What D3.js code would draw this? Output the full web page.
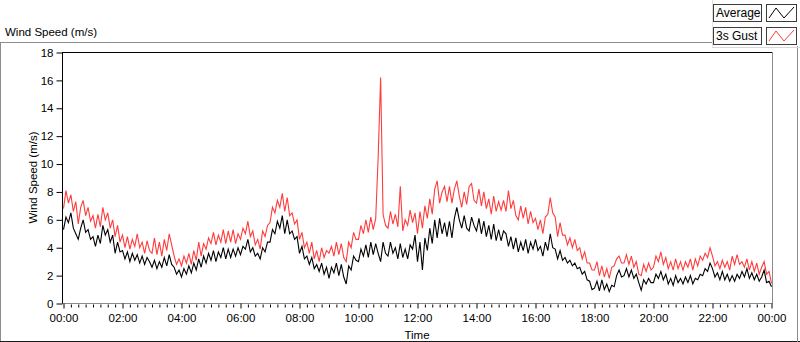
<!DOCTYPE html>
<html>
<head>
<meta charset="utf-8">
<script src="https://cdn.jsdelivr.net/npm/d3@7"></script>
<style>
  html, body { margin: 0; padding: 0; background: #fff; }
  svg { display: block; }
  text { font-family: "Liberation Sans", Arial, sans-serif; fill: #000; }
</style>
</head>
<body>
<svg id="chart" width="800" height="342"></svg>
<script>
// ---- data (5-minute samples, 00:00 .. 24:00) ----
const sampleMinutes = 5;
const avgSpeed = [
  // 00h
  5.3, 6.2, 5.8, 6.5, 5.4, 5.0, 4.6, 5.4, 6.0, 5.1, 5.3, 4.6,
  // 01h
  4.8, 4.1, 4.9, 4.3, 5.6, 4.9, 5.3, 4.4, 4.9, 3.6, 4.4, 3.7,
  // 02h
  3.8, 3.2, 3.7, 3.0, 3.6, 3.1, 3.5, 2.9, 3.4, 2.8, 3.3, 3.0,
  // 03h
  2.6, 3.1, 2.5, 3.0, 2.6, 3.3, 2.7, 3.5, 2.8, 2.6, 2.1, 2.4,
  // 04h
  1.9, 2.5, 2.1, 2.7, 2.2, 2.9, 2.4, 3.2, 2.6, 3.4, 2.9, 3.6,
  // 05h
  3.1, 3.8, 3.0, 3.7, 3.3, 4.0, 3.2, 3.9, 3.3, 3.9, 3.4, 4.0,
  // 06h
  3.5, 4.1, 3.9, 4.6, 3.7, 4.0, 3.4, 3.6, 3.2, 4.0, 3.7, 4.4,
  // 07h
  4.4, 5.3, 5.0, 5.9, 5.4, 6.3, 5.0, 6.0, 5.0, 5.2, 4.6, 4.8,
  // 08h
  3.6, 4.1, 3.2, 3.4, 2.8, 3.3, 2.5, 2.8, 2.3, 2.9, 2.1, 2.6,
  // 09h
  1.8, 2.6, 2.2, 2.9, 2.0, 2.8, 1.9, 1.4, 2.7, 2.4, 3.4, 3.1,
  // 10h
  3.0, 3.9, 3.4, 4.2, 3.3, 4.4, 3.5, 4.3, 3.6, 3.0, 4.4, 3.6,
  // 11h
  3.4, 4.4, 3.6, 4.0, 3.2, 4.3, 3.3, 3.9, 3.2, 4.2, 3.9, 4.9,
  // 12h
  3.0, 4.4, 2.4, 4.7, 3.8, 5.4, 4.3, 6.0, 4.7, 6.1, 5.0, 5.8,
  // 13h
  4.8, 5.9, 4.7, 6.1, 6.9, 6.0, 5.4, 6.3, 5.4, 5.2, 6.2, 5.6,
  // 14h
  5.2, 6.1, 5.0, 5.9, 4.8, 5.6, 4.6, 5.7, 4.5, 5.3, 4.5, 5.2,
  // 15h
  5.0, 4.1, 4.8, 3.9, 4.7, 3.7, 4.4, 3.8, 4.6, 3.6, 4.4, 3.9,
  // 16h
  4.6, 3.8, 4.1, 3.4, 4.4, 3.8, 5.0, 4.0, 3.9, 3.2, 3.8, 3.1,
  // 17h
  3.3, 2.9, 3.1, 2.7, 2.9, 2.5, 2.6, 2.1, 2.3, 1.7, 1.6, 1.0,
  // 18h
  1.1, 1.6, 0.9, 1.7, 1.0, 1.4, 0.85, 1.3, 1.2, 2.0, 2.4, 1.9,
  // 19h
  2.0, 2.5, 1.9, 2.4, 1.8, 2.1, 1.5, 0.95, 1.7, 1.4, 1.8, 1.5,
  // 20h
  1.5, 2.1, 1.8, 2.3, 1.7, 2.1, 1.4, 1.8, 1.3, 2.0, 1.5, 1.8,
  // 21h
  1.4, 1.9, 1.5, 2.0, 1.4, 1.8, 1.7, 2.1, 2.0, 2.5, 2.3, 2.9,
  // 22h
  2.5, 1.9, 2.2, 1.7, 2.3, 1.7, 2.1, 1.6, 2.0, 1.6, 2.1, 1.8,
  // 23h
  2.3, 1.9, 2.5, 1.8, 2.2, 1.7, 2.1, 1.6, 1.9, 2.4, 1.5, 1.6,
  // 24:00
  1.2
];
const gustSpeed = [
  // 00h
  6.8, 8.1, 7.2, 7.8, 6.6, 7.3, 5.7, 6.9, 7.4, 6.3, 6.9, 5.9,
  // 01h
  6.3, 5.4, 6.4, 5.5, 6.9, 6.0, 6.5, 5.4, 6.0, 4.8, 5.6, 4.4,
  // 02h
  4.9, 4.0, 4.8, 3.9, 4.6, 4.1, 5.0, 4.0, 4.4, 3.6, 4.5, 3.8,
  // 03h
  3.6, 4.7, 3.5, 4.4, 3.4, 4.6, 3.8, 5.0, 4.2, 3.4, 2.8, 3.2,
  // 04h
  2.7, 3.4, 2.9, 3.6, 2.8, 3.8, 3.1, 4.4, 3.4, 4.3, 3.9, 4.7,
  // 05h
  4.3, 5.1, 4.2, 4.9, 4.4, 5.3, 4.3, 5.2, 4.4, 5.3, 4.3, 5.0,
  // 06h
  4.6, 5.4, 5.0, 5.9, 4.8, 5.2, 4.2, 4.6, 3.9, 5.2, 4.8, 5.6,
  // 07h
  5.8, 6.9, 6.5, 7.4, 6.9, 7.9, 6.6, 7.6, 6.3, 6.5, 5.7, 6.0,
  // 08h
  4.6, 5.1, 4.0, 4.4, 3.6, 4.4, 3.2, 3.8, 3.0, 4.0, 3.3, 3.8,
  // 09h
  3.6, 4.1, 3.4, 4.4, 3.5, 4.3, 3.3, 3.0, 4.4, 4.0, 5.1, 4.6,
  // 10h
  4.6, 5.6, 5.0, 6.0, 5.1, 6.2, 5.3, 6.1, 10.5, 16.2, 6.4, 5.6,
  // 11h
  5.4, 6.6, 5.7, 6.4, 5.5, 8.4, 5.2, 6.0, 5.6, 6.7, 5.8, 6.5,
  // 12h
  5.0, 6.6, 5.4, 7.0, 6.1, 7.5, 6.4, 8.2, 8.8, 7.2, 8.0, 8.4,
  // 13h
  7.3, 8.4, 7.2, 8.2, 8.8, 7.7, 6.9, 8.0, 7.1, 8.4, 8.6, 7.4,
  // 14h
  7.2, 8.2, 7.0, 8.0, 6.8, 7.5, 6.4, 7.7, 6.6, 7.3, 6.7, 7.4,
  // 15h
  6.6, 8.1, 6.8, 7.4, 6.3, 6.0, 7.0, 6.1, 6.9, 5.7, 6.6, 5.8,
  // 16h
  6.1, 5.3, 6.0, 5.0, 6.2, 6.4, 7.6, 6.5, 6.2, 4.8, 5.8, 4.9,
  // 17h
  4.9, 4.2, 4.7, 4.0, 4.6, 3.8, 4.0, 3.2, 3.7, 2.9, 2.9, 2.4,
  // 18h
  2.4, 3.0, 2.0, 2.7, 1.9, 2.5, 1.8, 2.6, 2.7, 3.2, 3.4, 2.9,
  // 19h
  2.9, 3.5, 2.8, 3.4, 2.6, 3.0, 2.1, 2.0, 2.8, 2.3, 2.9, 2.4,
  // 20h
  2.6, 3.4, 3.0, 3.7, 2.8, 3.3, 2.5, 3.0, 2.4, 3.2, 2.5, 3.0,
  // 21h
  2.4, 3.0, 2.6, 3.2, 2.4, 3.2, 2.7, 3.4, 3.1, 3.6, 3.3, 4.0,
  // 22h
  3.4, 2.7, 3.0, 2.5, 3.1, 2.6, 3.0, 2.4, 3.4, 2.8, 3.5, 2.8,
  // 23h
  3.0, 2.6, 3.2, 2.4, 3.0, 2.3, 2.9, 2.1, 2.6, 3.0, 2.1, 2.3,
  // 24:00
  1.45
];
const seriesNames = ["Average", "3s Gust"];
const seriesColors = ["#000000", "#ff3c3c"];
const yTicks = [0, 2, 4, 6, 8, 10, 12, 14, 16, 18];
const xTickMinutes = [0, 120, 240, 360, 480, 600, 720, 840, 960, 1080, 1200, 1320, 1440];
const xTickLabels = ["00:00", "02:00", "04:00", "06:00", "08:00", "10:00", "12:00",
                     "14:00", "16:00", "18:00", "20:00", "22:00", "00:00"];
const chartTitle = "Wind Speed (m/s)";
const yTitle = "Wind Speed (m/s)";
const xTitle = "Time";

// ---- drawing ----
const svg = d3.select("#chart");
const L = 63, R = 771, T = 52, B = 303;

const x = d3.scaleLinear().domain([0, 1440]).range([L, R]);
const y = d3.scaleLinear().domain([0, 18]).range([B, T]);

// outer frame
svg.append("line").attr("x1", 0).attr("x2", 712).attr("y1", 42.5).attr("y2", 42.5)
  .attr("stroke", "#8c8c8c");
svg.append("line").attr("x1", 0.5).attr("x2", 0.5).attr("y1", 42).attr("y2", 342)
  .attr("stroke", "#8c8c8c");
svg.append("line").attr("x1", 0).attr("x2", 800).attr("y1", 341.5).attr("y2", 341.5)
  .attr("stroke", "#1a1a1a");
svg.append("line").attr("x1", 797.5).attr("x2", 797.5).attr("y1", 46).attr("y2", 342)
  .attr("stroke", "#8c8c8c");
// legend panel edges
svg.append("line").attr("x1", 712.5).attr("x2", 712.5).attr("y1", 0).attr("y2", 48)
  .attr("stroke", "#e0e0e0");
svg.append("line").attr("x1", 712).attr("x2", 800).attr("y1", 47.5).attr("y2", 47.5)
  .attr("stroke", "#d8d8d8");

// chart title
svg.append("text").attr("x", 5).attr("y", 36).attr("font-size", "11.5px").text(chartTitle);

// clip
svg.append("clipPath").attr("id", "plotclip").append("rect")
  .attr("x", L).attr("y", T).attr("width", R - L + 1).attr("height", B - T);

// plot lines
const line = d3.line()
  .x((d, i) => x(i * sampleMinutes) + 0.5)
  .y(d => y(d) + 0.5);

const plotG = svg.append("g").attr("clip-path", "url(#plotclip)");
plotG.append("path").datum(gustSpeed).attr("d", line)
  .attr("fill", "none").attr("stroke", seriesColors[1]).attr("stroke-width", 1.1);
plotG.append("path").datum(avgSpeed).attr("d", line)
  .attr("fill", "none").attr("stroke", seriesColors[0]).attr("stroke-width", 1.1);

// plot border: top/left dark, bottom/right gray
svg.append("line").attr("x1", L - 0.5).attr("x2", R + 1).attr("y1", T + 0.5).attr("y2", T + 0.5)
  .attr("stroke", "#000");
svg.append("line").attr("x1", L - 0.5).attr("x2", L - 0.5).attr("y1", T).attr("y2", B + 1)
  .attr("stroke", "#000");
svg.append("line").attr("x1", R + 1.5).attr("x2", R + 1.5).attr("y1", T).attr("y2", B + 1)
  .attr("stroke", "#8c8c8c");

// y axis
const yAxis = d3.axisLeft(y).tickValues(yTicks).tickSize(6).tickPadding(3)
  .tickFormat(d3.format("d"));
const yg = svg.append("g").attr("transform", `translate(${L - 0.5},0.5)`).call(yAxis);
yg.select(".domain").remove();
yg.selectAll(".tick line").attr("stroke", "#000");
yg.selectAll(".tick text").attr("font-size", "11.5px").attr("fill", "#000")
  .attr("font-family", "Liberation Sans, Arial, sans-serif");

// x axis minor ticks
const minorTicks = d3.range(0, 1441, 15).filter(m => m % 120 !== 0);
const xMinor = d3.axisBottom(x).tickValues(minorTicks).tickSize(3).tickFormat("");
const xmg = svg.append("g").attr("transform", `translate(0.5,${B + 1.5})`).call(xMinor);
xmg.select(".domain").remove();
xmg.selectAll(".tick line").attr("stroke", "#000");

// x axis major
const xAxis = d3.axisBottom(x).tickValues(xTickMinutes).tickSize(5).tickPadding(5)
  .tickFormat((d, i) => xTickLabels[i]);
const xg = svg.append("g").attr("transform", `translate(0.5,${B + 0.5})`).call(xAxis);
xg.select(".domain").attr("stroke", "#8c8c8c").attr("d", `M${L - 1},0H${R + 1.5}`);
xg.selectAll(".tick line").attr("stroke", "#000");
xg.selectAll(".tick text").attr("font-size", "11.5px").attr("fill", "#000")
  .attr("font-family", "Liberation Sans, Arial, sans-serif");

// axis titles
svg.append("text").attr("transform", `translate(37,${(T + B) / 2}) rotate(-90)`)
  .attr("text-anchor", "middle").attr("font-size", "11.5px").text(yTitle);
svg.append("text").attr("x", (L + R) / 2).attr("y", 339).attr("text-anchor", "middle")
  .attr("font-size", "11.5px").text(xTitle);

// legend
const legY = [4, 27];
const lg = svg.append("g");
seriesNames.forEach((name, i) => {
  const y0 = legY[i];
  lg.append("rect").attr("x", 713.5).attr("y", y0 + 0.5).attr("width", 48).attr("height", 17)
    .attr("fill", "#fbfbfb").attr("stroke", "#3c3c3c");
  lg.append("text").attr("x", 716).attr("y", y0 + 13).attr("font-size", "12px").text(name);
  lg.append("rect").attr("x", 766.5).attr("y", y0 + 0.5).attr("width", 30).attr("height", 17)
    .attr("fill", "#ffffff").attr("stroke", "#3c3c3c");
  const pts = [[769, y0 + 14], [776, y0 + 4], [784, y0 + 14], [794, y0 + 3]];
  lg.append("path").attr("d", d3.line()(pts)).attr("fill", "none")
    .attr("stroke", seriesColors[i]).attr("stroke-width", 1);
});
</script>
</body>
</html>
